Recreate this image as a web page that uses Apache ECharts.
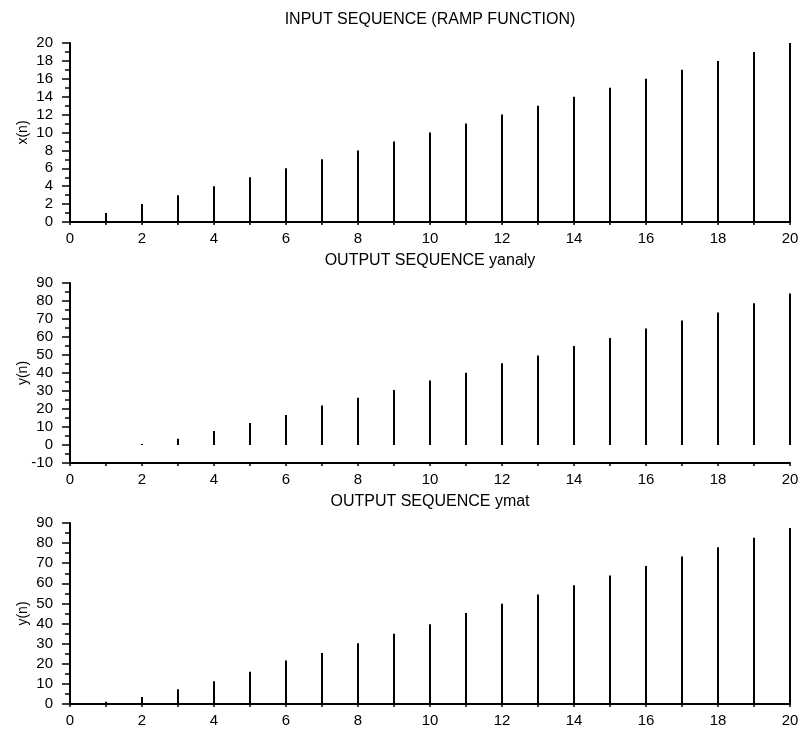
<!DOCTYPE html>
<html>
<head>
<meta charset="utf-8">
<script src="https://cdn.jsdelivr.net/npm/echarts@6/dist/echarts.min.js"></script>
<style>
html,body{margin:0;padding:0;background:#fff;}
#c{width:801px;height:731px;}
</style>
</head>
<body>
<div id="c"></div>
<script>
// n indices
var nValues = [1,2,3,4,5,6,7,8,9,10,11,12,13,14,15,16,17,18,19,20];
// input ramp x(n)
var xInput = [1,2,3,4,5,6,7,8,9,10,11,12,13,14,15,16,17,18,19,20];
// output yanaly
var yAnaly = [0,0.5,3.5,7.8,12.2,16.7,21.9,26.3,30.6,35.9,40.2,45.4,49.7,55,59.4,64.7,69.1,73.6,78.7,84.1];
// output ymat
var yMat = [1.1,3.5,7.3,11.3,16,21.6,25.4,30.2,34.9,39.7,45.2,49.8,54.4,59.1,63.9,68.6,73.4,78,82.7,87.5];

var titles = ['INPUT SEQUENCE (RAMP FUNCTION)', 'OUTPUT SEQUENCE yanaly', 'OUTPUT SEQUENCE ymat'];
var yNames = ['x(n)', 'y(n)', 'y(n)'];
var yMins = [0, -10, 0];
var yMaxs = [20, 90, 90];
var yIntervals = [2, 10, 10];
var xMin = 0, xMax = 20, xInterval = 2;

var FONT = 'Liberation Sans, Arial, sans-serif';
var grids = [
  {left:70, right:11, top:43, height:179, outerBoundsMode:'none', containLabel:false},
  {left:70, right:11, top:283, height:180, outerBoundsMode:'none', containLabel:false},
  {left:70, right:11, top:523, height:181, outerBoundsMode:'none', containLabel:false}
];
var titleY = [20, 261, 502];
var series = [xInput, yAnaly, yMat];

function pairs(ys){ return nValues.map(function(n,i){ return [n, ys[i]]; }); }

var xAxes = [], yAxes = [], ser = [], graphics = [];
for (var i = 0; i < 3; i++) {
  xAxes.push({
    type:'value', gridIndex:i, min:xMin, max:xMax, interval:xInterval,
    axisLine:{show:true, onZero:false, lineStyle:{color:'#000', width:2}},
    axisTick:{show:true, length:3, lineStyle:{color:'#000', width:1.5}},
    minorTick:{show:true, splitNumber:2, length:3, lineStyle:{color:'#000', width:1.5}},
    splitLine:{show:false},
    axisLabel:{color:'#000', fontFamily:FONT, fontSize:15, margin:9}
  });
  yAxes.push({
    type:'value', gridIndex:i, min:yMins[i], max:yMaxs[i], interval:yIntervals[i],
    name:yNames[i], nameLocation:'middle', nameGap:40, nameRotate:90, nameMoveOverlap:false,
    nameTextStyle:{color:'#000', fontFamily:FONT, fontSize:14},
    axisLine:{show:true, onZero:false, lineStyle:{color:'#000', width:2}},
    axisTick:{show:true, length:8, lineStyle:{color:'#000', width:1.5}},
    minorTick:{show:true, splitNumber:2, length:5, lineStyle:{color:'#000', width:1.5}},
    splitLine:{show:false},
    axisLabel:{color:'#000', fontFamily:FONT, fontSize:15, margin:17}
  });
  ser.push({
    type:'bar', xAxisIndex:i, yAxisIndex:i, data:pairs(series[i]),
    barWidth:2, itemStyle:{color:'#000'}, animation:false, silent:true
  });
  graphics.push({
    type:'text', x:430, y:titleY[i],
    style:{text:titles[i], font:'16px ' + FONT, fill:'#000',
      align:'center', verticalAlign:'middle', textAlign:'center', textVerticalAlign:'middle'}
  });
}

var chart = echarts.init(document.getElementById('c'), null, {renderer:'canvas'});
chart.setOption({
  backgroundColor:'#fff',
  animation:false,
  grid:grids,
  xAxis:xAxes,
  yAxis:yAxes,
  series:ser,
  graphic:graphics
});
</script>
</body>
</html>
